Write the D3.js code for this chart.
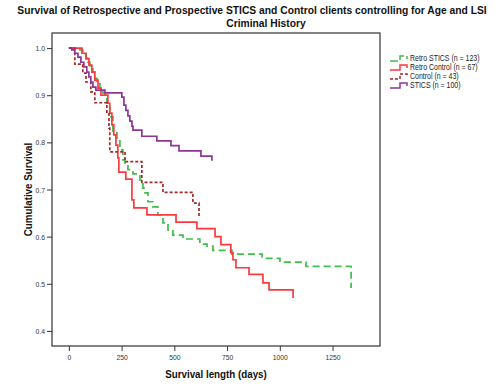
<!DOCTYPE html>
<html lang="en">
<head>
<meta charset="UTF-8">
<title>Survival of Retrospective and Prospective STICS and Control clients</title>
<script src="https://d3js.org/d3.v7.min.js"></script>
<style>
  body { margin: 0; background: #fff; }
  svg { display: block; font-family: "Liberation Sans", Arial, sans-serif; }
  .tick text { font-size: 8px; fill: #333; }
  .tick line { stroke: #333; }
  .title { font-size: 11.5px; font-weight: bold; fill: #111; }
  .axis-title { font-size: 11.5px; font-weight: bold; fill: #111; }
  .legend text { font-size: 8.5px; fill: #222; }
</style>
</head>
<body>
<div id="chart"></div>
<script>
// Series names (legend order)
const seriesNames = ["Retro STICS (n = 123)", "Retro Control (n = 67)", "Control (n = 43)", "STICS (n = 100)"];

// Kaplan-Meier steps: time (days) and cumulative survival after the step
const retroSticsT = [52, 66, 81, 90, 100, 114, 123, 133, 147, 161, 171, 180, 194, 209, 228, 242, 256, 266, 280, 304, 337, 351, 361, 375, 398, 422, 446, 470, 493, 541, 621, 655, 683, 773, 916, 1001, 1124, 1338];
const retroSticsS = [0.996, 0.987, 0.979, 0.970, 0.962, 0.949, 0.936, 0.926, 0.915, 0.905, 0.894, 0.883, 0.854, 0.820, 0.805, 0.784, 0.763, 0.752, 0.742, 0.733, 0.720, 0.703, 0.693, 0.674, 0.663, 0.646, 0.629, 0.614, 0.603, 0.595, 0.584, 0.580, 0.571, 0.563, 0.554, 0.546, 0.537, 0.491];

const retroControlT = [62, 81, 95, 109, 123, 138, 152, 185, 194, 204, 213, 223, 232, 237, 270, 299, 308, 370, 508, 607, 693, 721, 768, 778, 792, 854, 920, 949, 1063];
const retroControlS = [0.989, 0.977, 0.964, 0.949, 0.932, 0.915, 0.900, 0.883, 0.862, 0.837, 0.816, 0.794, 0.767, 0.737, 0.722, 0.678, 0.661, 0.646, 0.631, 0.617, 0.600, 0.583, 0.566, 0.551, 0.534, 0.520, 0.502, 0.487, 0.470];

const controlT = [28, 66, 81, 104, 123, 180, 190, 194, 266, 346, 446, 588, 617];
const controlS = [0.966, 0.947, 0.928, 0.907, 0.884, 0.864, 0.830, 0.780, 0.759, 0.715, 0.694, 0.671, 0.643];

const sticsT = [14, 28, 43, 57, 71, 85, 95, 104, 114, 128, 171, 251, 261, 270, 280, 289, 299, 304, 346, 417, 484, 522, 626, 678];
const sticsS = [0.996, 0.989, 0.981, 0.970, 0.960, 0.949, 0.939, 0.928, 0.917, 0.911, 0.905, 0.896, 0.879, 0.868, 0.856, 0.845, 0.834, 0.826, 0.813, 0.803, 0.793, 0.782, 0.771, 0.761];

const xTicks = [0, 250, 500, 750, 1000, 1250];
const yTicks = [0.4, 0.5, 0.6, 0.7, 0.8, 0.9, 1.0];

const series = [
  {name: seriesNames[0], t: retroSticsT, s: retroSticsS, color: "#41bd4b", dash: "7,4"},
  {name: seriesNames[1], t: retroControlT, s: retroControlS, color: "#fb3a3f", dash: null},
  {name: seriesNames[2], t: controlT, s: controlS, color: "#a4282b", dash: "3,2"},
  {name: seriesNames[3], t: sticsT, s: sticsS, color: "#8e3597", dash: null}
];

const W = 500, H = 387;
const plot = {left: 52, right: 380, top: 33, bottom: 346};

// squeeze text horizontally to look like the narrow font of the original
function narrow(sel, f) {
  sel.each(function() {
    const w = this.getComputedTextLength();
    d3.select(this).attr("textLength", w * f).attr("lengthAdjust", "spacingAndGlyphs");
  });
}

const svg = d3.select("#chart").append("svg")
  .attr("width", W)
  .attr("height", H);

const x = d3.scaleLinear().domain([-80, 1475]).range([plot.left, plot.right]);
const y = d3.scaleLinear().domain([0.368, 1.032]).range([plot.bottom, plot.top]);

// Title (two lines), squeezed with a transform so it fits the width
svg.append("g").attr("transform", "translate(252,14) scale(0.895,1)")
  .append("text").attr("class", "title")
  .attr("text-anchor", "middle")
  .text("Survival of Retrospective and Prospective STICS and Control clients controlling for Age and LSI");
svg.append("g").attr("transform", "translate(266,27) scale(0.895,1)")
  .append("text").attr("class", "title")
  .attr("text-anchor", "middle")
  .text("Criminal History");

// Axes
const gx = svg.append("g")
  .attr("transform", `translate(0,${plot.bottom})`)
  .call(d3.axisBottom(x).tickValues(xTicks).tickSize(5).tickPadding(3).tickFormat(d3.format("d")));
gx.select(".domain").remove();
narrow(gx.selectAll("text"), 0.85);

const gy = svg.append("g")
  .attr("transform", `translate(${plot.left},0)`)
  .call(d3.axisLeft(y).tickValues(yTicks).tickSize(5).tickPadding(2).tickFormat(d3.format(".1f")));
gy.select(".domain").remove();
narrow(gy.selectAll("text"), 0.85);

// Frame
svg.append("rect")
  .attr("x", plot.left).attr("y", plot.top)
  .attr("width", plot.right - plot.left).attr("height", plot.bottom - plot.top)
  .attr("fill", "none").attr("stroke", "#333").attr("stroke-width", 1.2);

// Axis titles
const xt = svg.append("text").attr("class", "axis-title")
  .attr("x", (plot.left + plot.right) / 2).attr("y", 378)
  .attr("text-anchor", "middle")
  .text("Survival length (days)");
narrow(xt, 0.85);
const yt = svg.append("text").attr("class", "axis-title")
  .attr("transform", `translate(32,${(plot.top + plot.bottom) / 2}) rotate(-90)`)
  .attr("text-anchor", "middle")
  .text("Cumulative Survival");
narrow(yt, 0.85);

// Step curves
const line = d3.line()
  .x(d => x(d[0]))
  .y(d => y(d[1]))
  .curve(d3.curveStepAfter);

series.forEach(sr => {
  const pts = [[0, 1]].concat(sr.t.map((t, i) => [t, sr.s[i]]));
  svg.append("path")
    .datum(pts)
    .attr("fill", "none")
    .attr("stroke", sr.color)
    .attr("stroke-width", 1.7)
    .attr("stroke-dasharray", sr.dash)
    .attr("d", line);
});

// Legend
const legend = svg.append("g").attr("class", "legend")
  .attr("transform", "translate(390,58)");
series.forEach((sr, i) => {
  const g = legend.append("g").attr("transform", `translate(0,${i * 9})`);
  g.append("path")
    .attr("d", "M0,3 H10 V-2 H17 V1")
    .attr("fill", "none")
    .attr("stroke", sr.color)
    .attr("stroke-width", 1.5)
    .attr("stroke-dasharray", sr.dash ? (i === 0 ? "8,3" : "3,2") : null);
  const tx = g.append("text")
    .attr("x", 20).attr("y", 3)
    .text(sr.name);
  narrow(tx, 0.82);
});
</script>
</body>
</html>
